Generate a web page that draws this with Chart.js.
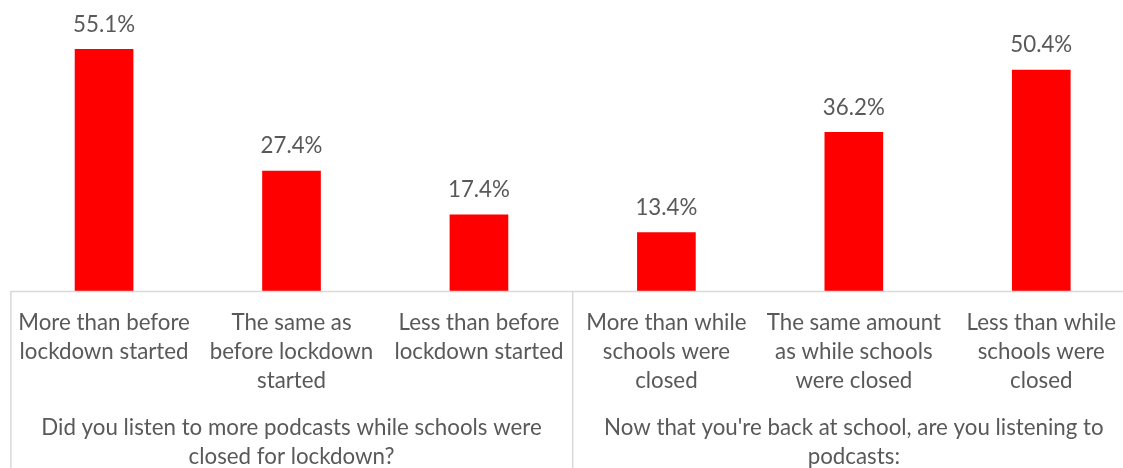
<!DOCTYPE html>
<html>
<head>
<meta charset="utf-8">
<script src="https://cdn.jsdelivr.net/npm/chart.js@4"></script>
<style>
  html, body { margin: 0; padding: 0; background: #fff; overflow: hidden; }
  #wrap { position: relative; width: 1136px; height: 468px; }
</style>
</head>
<body>
<div id="wrap"><canvas id="myChart"></canvas></div>
<script>
// answers, split in two question groups
const categories = [
	['More than before', 'lockdown started'],
	['The same as', 'before lockdown', 'started'],
	['Less than before', 'lockdown started'],
	['More than while', 'schools were', 'closed'],
	['The same amount', 'as while schools', 'were closed'],
	['Less than while', 'schools were', 'closed']
];
const values = [55.1, 27.4, 17.4, 13.4, 36.2, 50.4];
const groups = [
	['Did you listen to more podcasts while schools were', 'closed for lockdown?'],
	["Now that you're back at school, are you listening to", 'podcasts:']
];

const textColor = '#595959';
const lineColor = '#D9D9D9';
const fontFamily = 'Lato, "Open Sans", sans-serif';
const fontSize = 22.3;

// labels above bars + the axis / separator lines
const extras = {
	id: 'extras',
	afterDatasetsDraw(chart) {
		const ctx = chart.ctx;
		const meta = chart.getDatasetMeta(0);
		ctx.save();
		ctx.font = fontSize + 'px ' + fontFamily;
		ctx.fillStyle = textColor;
		ctx.textAlign = 'center';
		ctx.textBaseline = 'middle';
		meta.data.forEach((bar, i) => {
			ctx.fillText(values[i].toFixed(1) + '%', bar.x, bar.y - 24.5);
		});
		const area = chart.chartArea;
		const x = chart.scales.x;
		ctx.strokeStyle = lineColor;
		ctx.lineWidth = 1.5;
		ctx.beginPath();
		ctx.moveTo(area.left, area.bottom + 0.5);
		ctx.lineTo(chart.width, area.bottom + 0.5);
		const mid = (x.getPixelForValue(2) + x.getPixelForValue(3)) / 2;
		[area.left + 0.5, mid].forEach(px => {
			ctx.moveTo(px, area.bottom);
			ctx.lineTo(px, chart.height);
		});
		ctx.stroke();
		ctx.restore();
	}
};

const ctx = document.getElementById('myChart');
new Chart(ctx, {
	type: 'bar',
	data: {
		labels: categories,
		datasets: [{
			data: values,
			backgroundColor: '#FF0000',
			barPercentage: 0.313,
			categoryPercentage: 1
		}]
	},
	options: {
		responsive: true,
		maintainAspectRatio: false,
		animation: false,
		layout: { padding: { left: 10, right: 1, top: 27.5, bottom: 0 } },
		plugins: {
			legend: { display: false },
			tooltip: { enabled: false }
		},
		scales: {
			x: {
				weight: 0,
				grid: { display: false, drawTicks: false },
				border: { display: false },
				ticks: {
					color: textColor,
					font: { family: fontFamily, size: fontSize, lineHeight: 29 / fontSize },
					padding: 17.5,
					maxRotation: 0,
					autoSkip: false
				},
				afterFit(scale) { scale.height = 122; }
			},
			x2: {
				type: 'category',
				position: 'bottom',
				weight: 1,
				labels: groups,
				offset: true,
				grid: { display: false, drawTicks: false },
				border: { display: false },
				ticks: {
					color: textColor,
					font: { family: fontFamily, size: fontSize, lineHeight: 29 / fontSize },
					padding: 0.5,
					maxRotation: 0,
					autoSkip: false
				},
				afterFit(scale) { scale.height = 55; }
			},
			y: {
				display: false,
				min: 0,
				max: 60
			}
		}
	},
	plugins: [extras]
});
</script>
</body>
</html>
